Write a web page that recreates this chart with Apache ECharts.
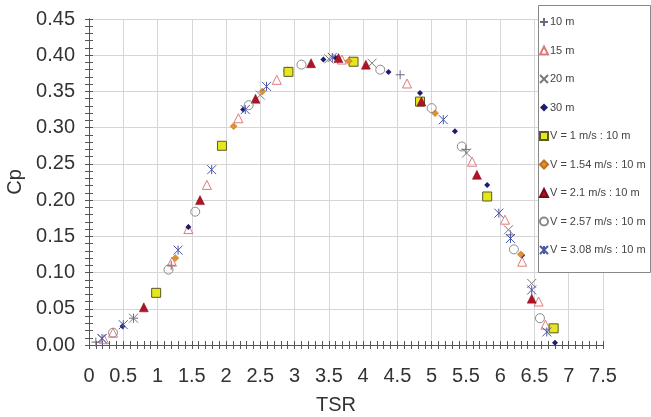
<!DOCTYPE html>
<html>
<head>
<meta charset="utf-8">
<script src="https://cdn.jsdelivr.net/npm/echarts@6/dist/echarts.min.js"></script>
<style>
  html, body { margin: 0; padding: 0; background: #fff; }
  #main { width: 651px; height: 417px; }
</style>
</head>
<body>
<div id="main"></div>
<script>
// series data, [TSR, Cp]
var d10m = [[0.10, 0.004], [0.65, 0.037], [1.20, 0.110], [2.90, 0.378], [3.80, 0.392], [4.54, 0.373], [5.50, 0.270], [6.15, 0.152]];
var d15m = [[0.22, 0.008], [0.35, 0.017], [1.21, 0.115], [1.45, 0.160], [1.72, 0.221], [2.18, 0.313], [2.74, 0.366], [3.69, 0.394], [4.64, 0.361], [5.59, 0.253], [6.07, 0.173], [6.32, 0.115], [6.56, 0.060], [6.66, 0.028]];
var d20m = [[0.19, 0.009], [0.65, 0.037], [2.50, 0.345], [3.50, 0.395], [4.13, 0.389], [5.51, 0.265], [6.12, 0.159], [6.46, 0.085]];
var d30m = [[0.49, 0.026], [1.45, 0.163], [2.25, 0.325], [3.42, 0.394], [3.60, 0.396], [4.37, 0.377], [4.83, 0.348], [5.34, 0.295], [5.81, 0.221], [6.32, 0.124], [6.80, 0.003]];
var dV100 = [[0.98, 0.072], [1.94, 0.275], [2.91, 0.377], [3.86, 0.391], [4.83, 0.336], [5.81, 0.205], [6.78, 0.023]];
var dV154 = [[1.26, 0.120], [2.11, 0.302], [2.53, 0.350], [3.79, 0.392], [5.05, 0.320], [6.30, 0.125]];
var dV210 = [[0.80, 0.052], [1.62, 0.200], [2.43, 0.340], [3.24, 0.389], [3.64, 0.396], [4.04, 0.387], [4.85, 0.336], [5.66, 0.235], [6.46, 0.064]];
var dV257 = [[0.35, 0.017], [1.16, 0.104], [1.55, 0.184], [2.33, 0.331], [3.10, 0.387], [4.25, 0.380], [5.00, 0.327], [5.44, 0.274], [6.20, 0.132], [6.58, 0.037]];
var dV308 = [[0.19, 0.009], [0.50, 0.028], [1.30, 0.131], [1.79, 0.242], [2.28, 0.325], [2.59, 0.357], [3.55, 0.397], [5.17, 0.311], [5.98, 0.182], [6.15, 0.147], [6.46, 0.076], [6.68, 0.018]];

var names = ['10 m', '15 m', '20 m', '30 m',
  'V = 1 m/s : 10 m', 'V = 1.54 m/s : 10 m', 'V = 2.1 m/s : 10 m',
  'V = 2.57 m/s : 10 m', 'V = 3.08 m/s : 10 m'];

var PLUS = 'path://M0,5L10,5M5,0L5,10';
var CROSS = 'path://M0,0L10,10M10,0L0,10';
var STAR = 'path://M0,0L10,10M10,0L0,10M5,0L5,10';
var CLEAR = 'rgba(0,0,0,0)';

function sc(name, data, symbol, size, fill, stroke, bw) {
  return {
    name: name,
    type: 'scatter',
    data: data,
    symbol: symbol,
    symbolSize: size,
    itemStyle: { color: fill, borderColor: stroke, borderWidth: bw, opacity: 1 },
    emphasis: { disabled: true }
  };
}

var chart = echarts.init(document.getElementById('main'));

var axisCol = '#555';
var font = 'Liberation Sans, Arial, sans-serif';

chart.setOption({
  backgroundColor: '#ffffff',
  animation: false,
  textStyle: { fontFamily: font },
  grid: { left: 89, right: 48, top: 19, bottom: 72, outerBoundsMode: 'none', containLabel: false },
  xAxis: [{
    type: 'value', min: 0, max: 7.5, interval: 0.5,
    name: 'TSR', nameLocation: 'middle', nameGap: 50,
    nameTextStyle: { fontSize: 20, color: '#333', padding: [0, 20, 0, 0] },
    axisLine: { lineStyle: { color: axisCol } },
    axisTick: { length: 4, lineStyle: { color: axisCol } },
    minorTick: { show: true, splitNumber: 5, length: 4, lineStyle: { color: axisCol } },
    axisLabel: { fontSize: 20, color: '#333', margin: 21 },
    splitLine: { show: true, lineStyle: { color: '#d6d6d6' } }
  }, {
    type: 'value', min: 0, max: 7.5, interval: 0.5, position: 'bottom',
    axisLine: { lineStyle: { color: axisCol } },
    axisTick: { inside: true, length: 4, lineStyle: { color: axisCol } },
    minorTick: { show: true, splitNumber: 5, length: 4, lineStyle: { color: axisCol } },
    axisLabel: { show: false },
    splitLine: { show: false }
  }],
  yAxis: [{
    type: 'value', min: 0, max: 0.45, interval: 0.05,
    name: 'Cp', nameLocation: 'middle', nameGap: 63,
    nameTextStyle: { fontSize: 20, color: '#333' },
    axisLine: { show: true, lineStyle: { color: axisCol } },
    axisTick: { show: true, length: 4, lineStyle: { color: axisCol } },
    minorTick: { show: true, splitNumber: 5, length: 4, lineStyle: { color: axisCol } },
    axisLabel: { fontSize: 20, color: '#333', margin: 14, formatter: function (v) { return v.toFixed(2); } },
    splitLine: { show: true, lineStyle: { color: '#d6d6d6' } }
  }, {
    type: 'value', min: 0, max: 0.45, interval: 0.05, position: 'left',
    axisLine: { show: true, lineStyle: { color: axisCol } },
    axisTick: { show: true, inside: true, length: 4, lineStyle: { color: axisCol } },
    minorTick: { show: true, splitNumber: 5, length: 4, lineStyle: { color: axisCol } },
    axisLabel: { show: false },
    splitLine: { show: false }
  }],
  graphic: [{
    type: 'rect', left: 538, top: 5, z: 10,
    shape: { width: 112, height: 267 },
    style: { fill: '#fff', stroke: '#888', lineWidth: 1 }
  }],
  legend: {
    orient: 'vertical', left: 539, top: 15, z: 20,
    padding: 0, itemGap: 14.5, itemWidth: 8, itemHeight: 8,
    textStyle: { fontSize: 11, color: '#444', lineHeight: 14, padding: [0, 0, 0, -3] },
    data: names
  },
  series: [
    sc(names[0], d10m, PLUS, 9, CLEAR, '#6f6680', 1),
    sc(names[1], d15m, 'triangle', 9, CLEAR, '#e07a7a', 1),
    sc(names[2], d20m, CROSS, 9, CLEAR, '#7a7a7a', 1),
    sc(names[3], d30m, 'diamond', 6, '#1c1c70', '#1c1c70', 0),
    sc(names[4], dV100, 'rect', 9, '#e6e61e', '#5a5a20', 1),
    sc(names[5], dV154, 'diamond', 7, '#e0922e', '#c07020', 0.5),
    sc(names[6], dV210, 'triangle', 9, '#b01326', '#7a0a18', 0.5),
    sc(names[7], dV257, 'circle', 9, CLEAR, '#8a8a8a', 1),
    sc(names[8], dV308, STAR, 9, CLEAR, '#4a56a8', 1)
  ]
});
</script>
</body>
</html>
